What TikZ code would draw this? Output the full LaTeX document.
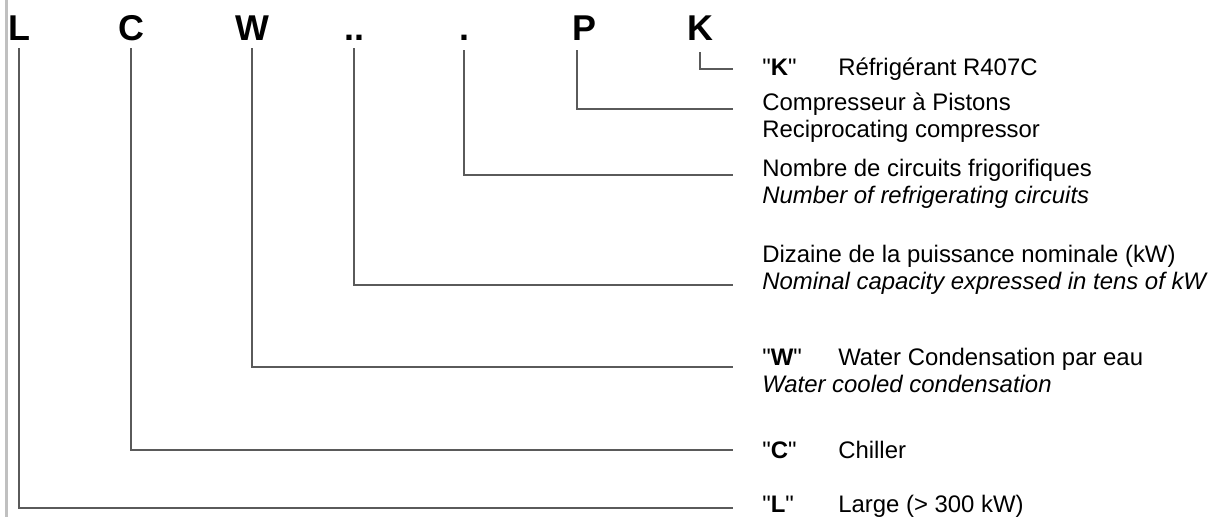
\documentclass[tikz,border=0pt]{standalone}
\usepackage{fontspec}
\setmainfont{Liberation Sans}
\definecolor{leadgray}{HTML}{5A5A5A}
\definecolor{bargray}{HTML}{C0C0C0}
\tikzset{
  letter/.style={font=\fontsize{27}{32}\selectfont\bfseries,inner sep=0pt,outer sep=6bp,anchor=base},
  desc/.style={font=\fontsize{18}{20}\selectfont,inner sep=0pt,anchor=base west},
  lead/.style={draw=leadgray,line width=1.5bp},
}
\newcommand{\code}[1]{\textquotedbl\textbf{#1}\textquotedbl}
\begin{document}
\begin{tikzpicture}[x=0.75bp,y=-0.75bp]
\useasboundingbox (0,0) rectangle (1215,517);
\fill[white] (0,0) rectangle (1215,517);
\draw[bargray,line width=2.25bp] (6,0) -- (6,517);
%%
\node (lL) at (19,40) [letter] {L};
  \node (lC) at (131,40) [letter] {C};
  \node (lW) at (252,40) [letter] {W};
  \node (lD) at (354,40) [letter] {..};
  \node (lN) at (464,40) [letter] {.};
  \node (lP) at (584,40) [letter] {P};
  \node (lK) at (700,40) [letter] {K};
%
\coordinate (eK) at (733,69);
  \coordinate (eP) at (733,109);
  \coordinate (eN) at (733,175);
  \coordinate (eD) at (733,285);
  \coordinate (eW) at (733,367);
  \coordinate (eC) at (733,450);
  \coordinate (eL) at (733,508);
%
\node (qK) at (762,75) [desc] {\code{K}};
  \node (dK) at (838,75) [desc] {Réfrigérant R407C};
  \node (dP) at (762,110) [desc] {Compresseur à Pistons};
  \node (dPe) at (762,137) [desc] {Reciprocating compressor};
  \node (dN) at (762,176) [desc] {Nombre de circuits frigorifiques};
  \node (dNe) at (762,203) [desc] {\itshape Number of refrigerating circuits};
  \node (dD) at (762,262) [desc] {Dizaine de la puissance nominale (kW)};
  \node (dDe) at (762,289) [desc] {\itshape Nominal capacity expressed in tens of kW};
  \node (qW) at (762,365) [desc] {\code{W}};
  \node (dW) at (838,365) [desc] {Water Condensation par eau};
  \node (dWe) at (762,392) [desc] {\itshape Water cooled condensation};
  \node (qC) at (762,458) [desc] {\code{C}};
  \node (dC) at (838,458) [desc] {Chiller};
  \node (qL) at (762,512) [desc] {\code{L}};
  \node (dL) at (838,512) [desc] {Large (> 300 kW)};
%
\draw [lead,shorten <=3bp] (lK.south) |- (eK);
  \draw [lead,shorten <=1.5bp] ([xshift=-5.25bp]lP.south) |- (eP);
  \draw [lead,shorten <=1.5bp] (lN.south) |- (eN);
  \draw [lead] (lD.south) |- (eD);
  \draw [lead] (lW.south) |- (eW);
  \draw [lead] (lC.south) |- (eC);
  \draw [lead] (lL.south) |- (eL);
%
\end{tikzpicture}
\end{document}
